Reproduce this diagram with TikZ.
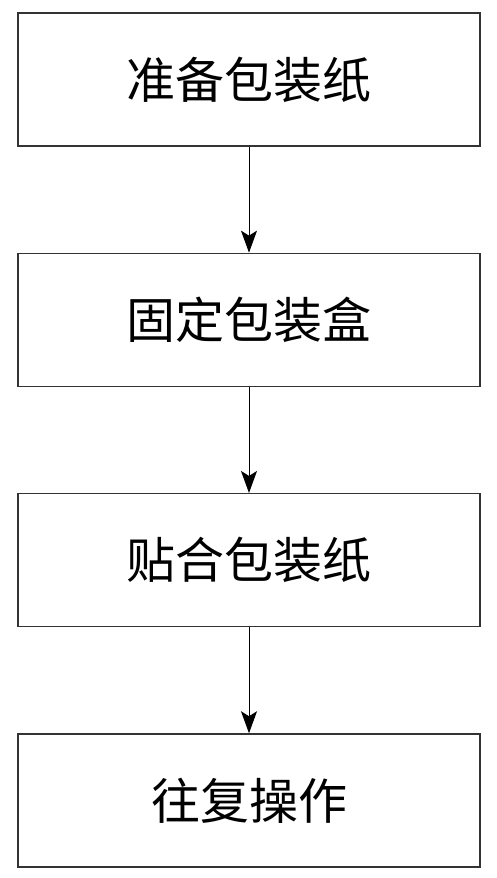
\documentclass[tikz,border=0pt]{standalone}
\usepackage{fontspec}
\newfontfamily\cjk{Noto Sans CJK SC}
\usetikzlibrary{positioning,arrows.meta}

\begin{document}
\begin{tikzpicture}[x=1pt,y=1pt,node distance=106pt,
  stepbox/.style={draw=black!80,line width=1.3pt,minimum width=462pt,minimum height=133pt,
    font=\cjk\fontsize{49}{52}\selectfont},
  flow/.style={line width=1pt,-{Stealth[length=22pt,width=16pt,inset=5pt]}}]

  \useasboundingbox (0,0) rectangle (496,-878);

  \node [stepbox] (paper) at (249,-79.5) {准备包装纸};
  \node [stepbox,below=of paper] (fixbox) {固定包装盒};
  \node [stepbox,below=of fixbox] (attach) {贴合包装纸};
  \node [stepbox,below=of attach] (repeat) {往复操作};

  \foreach \A/\B in {paper/fixbox,fixbox/attach,attach/repeat}
    \draw [flow] (\A) -- (\B);
\end{tikzpicture}
\end{document}
